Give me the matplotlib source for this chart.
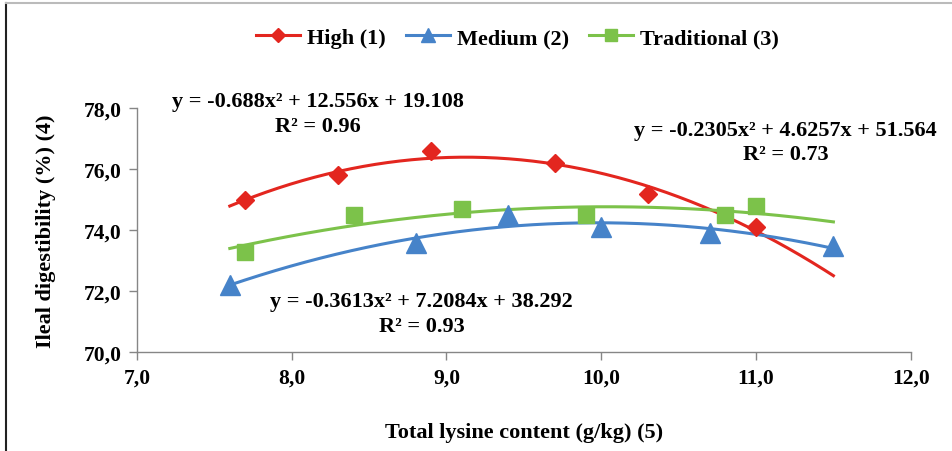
import matplotlib
matplotlib.use('Agg')
import matplotlib.pyplot as plt
from matplotlib.lines import Line2D
import numpy as np

plt.rcParams['font.family'] = ['Liberation Serif', 'DejaVu Serif']
plt.rcParams['font.weight'] = 'bold'

# data
high_x = [7.7, 8.3, 8.9, 9.7, 10.3, 11.0]
high_y = [75.0, 75.8, 76.6, 76.2, 75.2, 74.1]
medium_x = [7.6, 8.8, 9.4, 10.0, 10.7, 11.5]
medium_y = [72.2, 73.6, 74.5, 74.1, 73.9, 73.5]
trad_x = [7.7, 8.4, 9.1, 9.9, 10.8, 11.0]
trad_y = [73.3, 74.5, 74.7, 74.5, 74.5, 74.8]

# trendline coefficients (a, b, c) for y = a*x^2 + b*x + c
high_coef = [-0.688, 12.556, 19.108]
medium_coef = [-0.3613, 7.2084, 38.292]
trad_coef = [-0.2305, 4.6257, 51.564]
trend_range = [7.6, 11.5]

labels = ['High (1)', 'Medium (2)', 'Traditional (3)']
colors = ['#E3261F', '#4683C9', '#7CC24A']

fig = plt.figure(figsize=(9.53, 4.52), dpi=100)
ax = fig.add_axes([0.1437, 0.218, 0.812, 0.5405])

xs = np.linspace(trend_range[0], trend_range[1], 200)
series = [
    (high_x, high_y, high_coef, 'D', 9),
    (medium_x, medium_y, medium_coef, '^', 14),
    (trad_x, trad_y, trad_coef, 's', 12),
]
handles = []
for (px, py, coef, mk, ms), col, lab in zip(series, colors, labels):
    ax.plot(xs, np.polyval(coef, xs), color=col, lw=2.2, zorder=2)
    ax.plot(px, py, linestyle='none', marker=mk, ms=ms, color=col, zorder=3)
    handles.append(Line2D([], [], color=col, lw=2.2, marker=mk, ms=ms * 0.75, label=lab))

ax.set_xlim(7, 12)
ax.set_ylim(70, 78)
ax.set_xticks(np.arange(7, 12.01, 1))
ax.set_yticks(np.arange(70, 78.01, 2))
ax.set_xticklabels([f'{v:.1f}'.replace('.', ',') for v in np.arange(7, 12.01, 1)])
ax.set_yticklabels([f'{v:.1f}'.replace('.', ',') for v in np.arange(70, 78.01, 2)])
ax.tick_params(labelsize=15.5, length=6, width=1, color='#868686', pad=5)

for side in ['top', 'right']:
    ax.spines[side].set_visible(False)
for side in ['left', 'bottom']:
    ax.spines[side].set_color('#868686')
    ax.spines[side].set_linewidth(1)

ax.set_xlabel('Total lysine content (g/kg) (5)', fontsize=16, fontweight='bold', labelpad=25)
ax.set_ylabel('Ileal digestibility (%) (4)', fontsize=16, fontweight='bold', labelpad=20)

# trendline equations
eq_kw = dict(ha='center', va='center', fontsize=16, fontweight='bold', linespacing=1.3, clip_on=False)
ax.text(8.17, 77.83, 'y = -0.688x² + 12.556x + 19.108\nR² = 0.96', **eq_kw)
ax.text(11.19, 76.9, 'y = -0.2305x² + 4.6257x + 51.564\nR² = 0.73', **eq_kw)
ax.text(8.84, 71.27, 'y = -0.3613x² + 7.2084x + 38.292\nR² = 0.93', **eq_kw)

fig.legend(handles=handles, loc='center', bbox_to_anchor=(0.543, 0.914), ncol=3, frameon=False,
           handlelength=2.0, handletextpad=0.3, columnspacing=0.9,
           prop={'weight': 'bold', 'size': 16})

# outer frame (left and top edges)
fig.add_artist(Line2D([0.006, 0.006], [0, 0.992], transform=fig.transFigure, color='#222222', lw=1.5))
fig.add_artist(Line2D([0.006, 1.0], [0.992, 0.992], transform=fig.transFigure, color='#bbbbbb', lw=1.5))

fig.savefig('out.png', dpi=100)
